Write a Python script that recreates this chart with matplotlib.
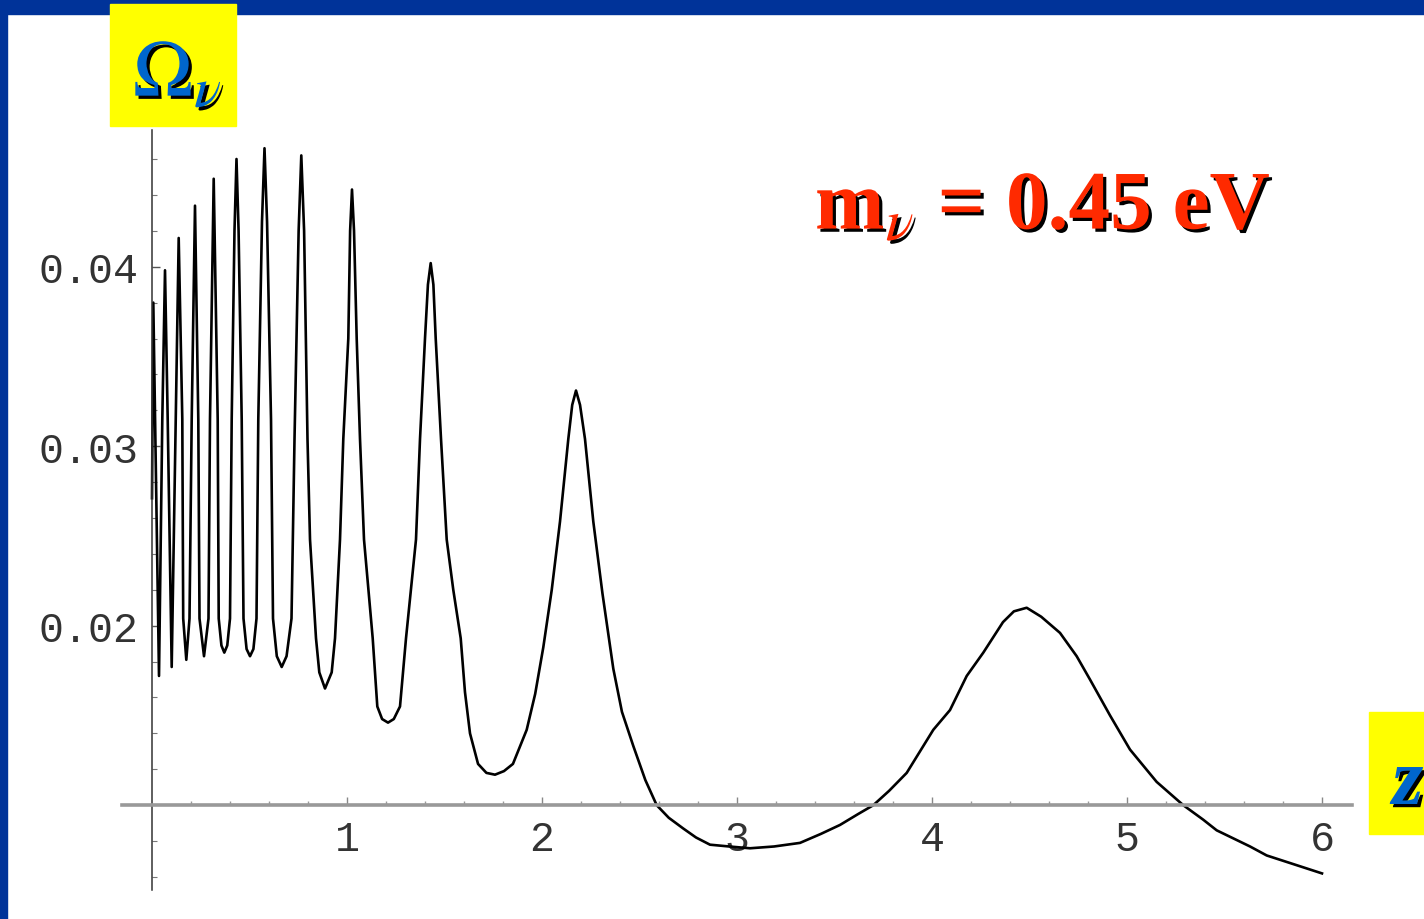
import numpy as np
import matplotlib
matplotlib.use("Agg")
import matplotlib.pyplot as plt
import matplotlib.patheffects as pe
from matplotlib.patches import Rectangle
from matplotlib.ticker import FixedLocator

plt.rcParams['mathtext.fontset'] = 'stix'

# redshift z and Omega_nu
z = [0.0, 0.0067, 0.0359, 0.0528, 0.0667, 0.0805, 0.1010, 0.1215, 0.1369, 0.1554,
     0.1600, 0.1759, 0.1923, 0.2036, 0.2205, 0.2374, 0.2436, 0.2667, 0.2897, 0.2974,
     0.3164, 0.3369, 0.3421, 0.3560, 0.3708, 0.3860, 0.4000, 0.4087, 0.4230, 0.4333,
     0.4440, 0.4600, 0.4692, 0.4850, 0.5026, 0.5200, 0.5359, 0.5451, 0.5640, 0.5769,
     0.5900, 0.6103, 0.6205, 0.6400, 0.6651, 0.6900, 0.7154, 0.7308, 0.7520, 0.7656,
     0.7800, 0.7974, 0.8103, 0.8410, 0.8580, 0.8872, 0.9215, 0.9385, 0.9641, 0.9810,
     1.0067, 1.0160, 1.0256, 1.0360, 1.0497, 1.0667, 1.0872, 1.1318, 1.1554, 1.1800,
     1.2103, 1.2400, 1.2718, 1.3026, 1.3538, 1.3744, 1.4000, 1.4150, 1.4292, 1.4430,
     1.4549, 1.4821, 1.5113, 1.5450, 1.5831, 1.6050, 1.6308, 1.6720, 1.7150, 1.7590,
     1.8050, 1.8510, 1.9215, 1.9650, 2.0067, 2.0500, 2.0923, 2.1349, 2.1550, 2.1744,
     2.1950, 2.2205, 2.2631, 2.3100, 2.3657, 2.4100, 2.4682, 2.5300, 2.5882, 2.6500,
     2.7246, 2.7900, 2.8615, 2.9600, 3.0667, 3.1900, 3.3231, 3.4300, 3.5282, 3.6200,
     3.6990, 3.7800, 3.8703, 3.9500, 4.0067, 4.0923, 4.1780, 4.2631, 4.3641, 4.4200,
     4.4856, 4.5600, 4.6564, 4.7420, 4.8103, 4.9130, 5.0154, 5.1520, 5.2887, 5.3900,
     5.4600, 5.6310, 5.7164, 5.8870, 6.0]
omega = [0.0271, 0.0380, 0.0172, 0.0315, 0.0398, 0.0315, 0.0177, 0.0315, 0.0416, 0.0315,
         0.0204, 0.0181, 0.0204, 0.0315, 0.0434, 0.0315, 0.0204, 0.0183, 0.0204, 0.0315,
         0.0449, 0.0315, 0.0204, 0.0189, 0.0185, 0.0189, 0.0204, 0.0315, 0.0420, 0.0460,
         0.0420, 0.0315, 0.0204, 0.0187, 0.0183, 0.0187, 0.0204, 0.0315, 0.0425, 0.0466,
         0.0425, 0.0315, 0.0204, 0.0183, 0.0177, 0.0183, 0.0204, 0.0304, 0.0420, 0.0462,
         0.0420, 0.0304, 0.0248, 0.0193, 0.0174, 0.0165, 0.0174, 0.0193, 0.0248, 0.0304,
         0.0360, 0.0420, 0.0443, 0.0420, 0.0360, 0.0304, 0.0248, 0.0193, 0.0155, 0.0148,
         0.0146, 0.0148, 0.0155, 0.0193, 0.0248, 0.0304, 0.0360, 0.0390, 0.0402, 0.0390,
         0.0360, 0.0304, 0.0248, 0.0220, 0.0193, 0.0163, 0.0140, 0.0123, 0.0118, 0.0117,
         0.0119, 0.0123, 0.0142, 0.0162, 0.0188, 0.0220, 0.0258, 0.0304, 0.0323, 0.0331,
         0.0323, 0.0304, 0.0258, 0.0218, 0.0176, 0.0152, 0.0133, 0.0114, 0.0100, 0.0093,
         0.0087, 0.0082, 0.0078, 0.0077, 0.0076, 0.0077, 0.0079, 0.0084, 0.0089, 0.0095,
         0.0100, 0.0108, 0.0118, 0.0132, 0.0142, 0.0153, 0.0172, 0.0185, 0.0202, 0.0208,
         0.0210, 0.0205, 0.0196, 0.0183, 0.0170, 0.0150, 0.0131, 0.0113, 0.0100, 0.0092,
         0.0086, 0.0077, 0.0072, 0.0066, 0.0062]

x_ticks = [1, 2, 3, 4, 5, 6]
y_ticks = [0.02, 0.03, 0.04]
y_ticklabels = ['0.02', '0.03', '0.04']

fig = plt.figure(figsize=(14.24, 9.2), dpi=100)
fig.patch.set_facecolor('white')
ax = fig.add_axes([0, 0, 1, 1])
ax.set_facecolor('none')

ax.plot(z, omega, color='black', lw=1.9, solid_joinstyle='round')

ax.set_xlim(-0.7795, 6.5231)
ax.set_ylim(0.00366, 0.054914)

for s in ['top', 'right']:
    ax.spines[s].set_visible(False)
ax.spines['left'].set_position(('data', 0))
ax.spines['left'].set_bounds(0.0053, 0.0476)
ax.spines['left'].set_color('#333333')
ax.spines['left'].set_linewidth(1.1)
ax.spines['bottom'].set_position(('data', 0.01))
ax.spines['bottom'].set_bounds(-0.154, 6.154)
ax.spines['bottom'].set_color('#999999')
ax.spines['bottom'].set_linewidth(2.6)

ax.xaxis.set_major_locator(FixedLocator(x_ticks))
ax.xaxis.set_minor_locator(FixedLocator([i * 0.2 for i in range(1, 31) if i % 5]))
ax.set_xticklabels([str(t) for t in x_ticks])
ax.yaxis.set_major_locator(FixedLocator(y_ticks))
ax.yaxis.set_minor_locator(FixedLocator([0.006 + i * 0.002 for i in range(21)
                                         if i not in (2, 7, 12, 17)]))
ax.set_yticklabels(y_ticklabels)

for lab in ax.get_xticklabels() + ax.get_yticklabels():
    lab.set_fontfamily('Liberation Mono')
    lab.set_fontsize(30)
    lab.set_color('#333333')

ax.tick_params(axis='x', which='major', direction='in', length=6, width=1,
               color='#888888', pad=10)
ax.tick_params(axis='x', which='minor', direction='in', length=3, width=1,
               color='#999999')
ax.tick_params(axis='y', which='major', direction='in', length=6, width=1,
               color='#555555', pad=10)
ax.tick_params(axis='y', which='minor', direction='in', length=3.5, width=0.8,
               color='#777777')

# slide frame
fig.patches.append(Rectangle((0, 1 - 15 / 920), 1, 15 / 920, transform=fig.transFigure,
                             color='#003399', zorder=1))
fig.patches.append(Rectangle((0, 0), 7 / 1424, 1, transform=fig.transFigure,
                             color='#003399', zorder=1))
fig.patches.append(Rectangle((110 / 1424, 1 - 127 / 920), 126 / 1424, 122 / 920,
                             transform=fig.transFigure, color='#ffff00', zorder=2))
fig.patches.append(Rectangle((1369 / 1424, 1 - 835 / 920), 60 / 1424, 122 / 920,
                             transform=fig.transFigure, color='#ffff00', zorder=2))

shadow = [pe.withSimplePatchShadow(offset=(2.3, -2.3), shadow_rgbFace='black', alpha=1)]

fig.text(133 / 1424, 1 - 97 / 920, r'$\Omega_\nu$', color='#0066cc', fontsize=58,
         ha='left', va='baseline', path_effects=shadow, zorder=5)
fig.text(1392 / 1424, 1 - 805 / 920, 'z', color='#0066cc', fontsize=58,
         family='Liberation Serif', style='italic', weight='bold',
         ha='left', va='baseline', path_effects=shadow, zorder=5)
fig.text(815 / 1424, 1 - 230 / 920, r'm$_\nu$ = 0.45 eV', color='#ff2a00', fontsize=60,
         family='Liberation Serif', weight='bold', ha='left', va='baseline',
         path_effects=shadow, zorder=5)

fig.savefig('out.png', dpi=100)
